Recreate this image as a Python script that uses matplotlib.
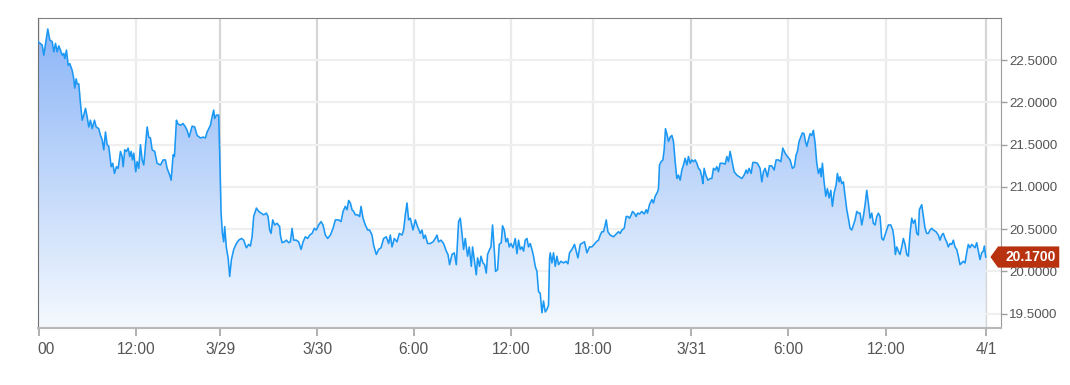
import numpy as np
import matplotlib
matplotlib.use("Agg")
import matplotlib.pyplot as plt
from matplotlib.path import Path
from matplotlib.colors import LinearSegmentedColormap
from matplotlib import transforms

plt.rcParams['font.family'] = ['Liberation Sans', 'DejaVu Sans']

# time position along the session axis, and price
pos = [0, 4.2, 5.8, 9.8, 11.8, 14.2, 15.8, 17.5, 19.2, 20.8, 22.5, 24.2, 25.8, 26.8, 28.5,
       30.2, 31.8, 34.2, 35.8, 36.8, 38.2, 39.2, 40.8, 42.5, 44.2, 45.8, 47.5, 49.2, 50.8,
       52.5, 54.2, 56.5, 58.2, 60.8, 62.5, 64.2, 65.8, 67.5, 69.2, 70.8, 73.2, 74.8, 76.5,
       78.5, 80.2, 82.5, 84.2, 85.2, 86.8, 88.5, 90.2, 91.8, 93.2, 94.5, 95.8, 97.8, 99.2,
       100.8, 102.5, 104.2, 105.8, 107.5, 109.2, 110.8, 112.5, 114.2, 116.8, 119.2, 122.5,
       125.2, 127.5, 129.2, 131.8, 133.2, 135.2, 136.5, 138.5, 139.8, 142.5, 145.2, 147.5,
       149.2, 151.2, 154.2, 156.8, 159.2, 162.5, 165.2, 167.5, 169.2, 170.8, 172.5, 174.2,
       175.8, 176.8, 178.5, 180.8, 181.8, 183.2, 184.5, 185.8, 186.8, 188.5, 190.2, 191.8,
       193.5, 195.8, 198.5, 200.8, 203.5, 205.8, 208.5, 210.8, 212.5, 214.2, 215.8, 218.5,
       220.8, 223.2, 225.8, 228.5, 230.2, 231.8, 233.2, 234.8, 236.8, 239.2, 241.8,
       242.5, 244.2, 246.5, 248.5, 250.8, 252.5, 254.2, 255.8, 258.5, 260.8, 263.2, 265.2,
       267.5, 269.8, 271.8, 274.2, 276.5, 278.5, 280.8, 283.2, 285.2, 287.5, 289.8, 292.5,
       295.2, 297.5, 300.8, 303.2, 305.2, 307.5, 309.2, 310.8, 312.5, 314.2, 315.8, 317.5,
       319.8, 321.8, 323.2, 325.2, 327.5, 329.8, 331.8, 334.2, 335.8, 338.5, 340.8, 343.2,
       345.8, 348.5, 350.8, 352.5, 354.2, 356.5, 359.2, 361.5, 364.2, 365.8, 367.5, 369.2,
       370.8, 372.5, 375.2, 377.5, 379.8, 382.5, 384.2, 385.8, 387.5, 389.8, 392.5, 395.2,
       397.5, 399.2, 400.8, 403.2, 405.8, 408.5, 410.2, 411.8, 414.2, 416.5, 418.5, 420.8,
       422.5, 424.2, 425.8, 427.5, 429.8, 431.5, 433.5, 434.8, 436.5, 438.5, 439.8, 441.8,
       443.2, 445.2, 446.8, 448.5, 449.8, 451.8, 453.2, 454.8, 456.5, 457.8, 459.8, 461.5,
       463.5, 464.8, 466.5, 468.2, 469.8, 471.5, 473.2, 475.2, 477.5, 479.2, 480.8, 482.5,
       484.2, 485.8, 487.5, 489.2, 490.8, 492.5, 494.2, 495.8, 497.5, 499.2, 500.8, 502.5,
       504.2, 505.8, 507.5, 509.2, 510.8, 511.8, 512.5,
       514.2, 515.8, 517.5, 519.2, 520.8, 523.2, 525.8, 528.2, 530.2, 531.8, 534.2, 536.8,
       538.5, 540.2, 542.5, 545.2, 546.8, 549.2, 551.8, 554.2, 556.5, 558.5, 560.8, 562.5,
       564.2, 565.8, 567.5, 568.5, 570.2, 572.5, 575.8, 577.5, 579.2, 580.8, 582.5, 584.2,
       586.5, 588.5, 590.2, 591.8, 593.2, 594.8, 596.5, 598.5, 599.8, 601.8, 604.2, 606.5,
       608.5, 609.8, 611.8, 614.2, 615.8, 617.5, 619.8, 620.8, 621.8, 623.5, 625.2, 626.5,
       627.8, 629.2, 630.8, 632.5, 634.2, 635.8, 637.5, 639.2, 640.8, 642.5, 644.2, 645.8,
       647.5, 649.2, 650.8, 652.5, 654.2, 655.8, 657.5, 659.2, 660.8, 662.5, 664.2, 665.2,
       666.5, 668.2, 670.2, 672.5, 674.2, 675.8, 677.5, 679.2, 680.8, 682.5, 685.2, 687.5,
       689.2, 690.8, 692.5, 694.2, 696.5, 699.2, 701.8, 704.2, 706.5, 708.5, 709.8, 711.5,
       713.5, 715.2, 717.5, 719.8, 722.5, 724.2, 725.8, 727.5, 729.8, 731.8, 734.2, 736.5,
       738.5, 740.8, 743.2, 745.2, 747.5, 749.8, 752.5, 754.8, 756.8, 758.5, 759.8, 761.5,
       763.2, 764.8, 766.5, 767.8, 769.2, 770.8, 772.5, 774.2, 775.8, 777.5, 779.2, 780.8,
       782.5, 783.5, 784.8, 786.5, 788.2, 789.8, 791.5, 793.2, 794.8, 796.5, 798.5, 799.8,
       801.5, 802.5, 804.2, 805.8, 807.5, 809.2, 810.8, 812.5, 814.2, 815.8, 817.5, 819.2,
       820.8, 822.5, 824.2, 825.8, 827.5, 829.2, 830.8, 832.5, 834.2, 835.8, 837.5, 839.2,
       840.8, 842.5, 844.2, 845.8, 847.5, 849.2, 850.8, 853.2, 855.2, 856.5, 857.8, 859.2,
       860.8, 862.5, 864.2, 865.8, 867.5, 869.2, 870.8, 872.5, 874.2, 875.8, 877.5, 879.2,
       880.8, 881.8, 884.2, 885.8, 887.5, 889.2, 890.8, 892.5, 894.2, 895.8, 898.5, 900.8,
       902.5, 904.2, 905.8, 907.5, 909.2, 910.8, 912.5, 914.2, 915.8, 917.5, 919.2, 920.8,
       922.5, 924.2, 925.8, 927.5, 929.2, 930.8, 932.5, 934.2, 935.8, 937.5, 939.2, 940.8,
       942.5, 944.2, 945.8, 946.8, 948.2]

price = [22.72, 22.68, 22.56, 22.87, 22.74, 22.72, 22.60, 22.70, 22.60, 22.67, 22.62, 22.56,
         22.58, 22.52, 22.62, 22.44, 22.46, 22.38, 22.28, 22.17, 22.28, 22.22, 22.22, 21.99,
         21.79, 21.85, 21.93, 21.83, 21.71, 21.79, 21.69, 21.79, 21.71, 21.69, 21.61, 21.56,
         21.44, 21.65, 21.50, 21.48, 21.24, 21.28, 21.16, 21.24, 21.22, 21.42, 21.36, 21.24,
         21.44, 21.42, 21.46, 21.36, 21.42, 21.32, 21.40, 21.18, 21.30, 21.22, 21.50, 21.32,
         21.26, 21.48, 21.71, 21.59, 21.58, 21.44, 21.42, 21.28, 21.26, 21.32, 21.32, 21.22,
         21.14, 21.08, 21.38, 21.36, 21.79, 21.75, 21.73, 21.75, 21.71, 21.67, 21.59, 21.72,
         21.71, 21.61, 21.58, 21.59, 21.58, 21.65, 21.69, 21.73, 21.83, 21.91, 21.81, 21.85,
         21.85, 21.40, 20.69, 20.45, 20.35, 20.53, 20.28, 20.16, 19.94, 20.14, 20.26, 20.33,
         20.37, 20.39, 20.37, 20.28, 20.32, 20.30, 20.41, 20.65, 20.75, 20.71, 20.69, 20.67,
         20.69, 20.65, 20.49, 20.45, 20.61, 20.55, 20.57, 20.53,
         20.43, 20.34, 20.35, 20.37, 20.34, 20.35, 20.51, 20.37, 20.37, 20.35, 20.26, 20.35,
         20.41, 20.39, 20.43, 20.45, 20.51, 20.49, 20.55, 20.59, 20.55, 20.43, 20.39, 20.43,
         20.51, 20.61, 20.61, 20.59, 20.71, 20.77, 20.73, 20.84, 20.81, 20.73, 20.71, 20.67,
         20.67, 20.65, 20.77, 20.63, 20.55, 20.49, 20.49, 20.43, 20.31, 20.20, 20.26, 20.28,
         20.39, 20.41, 20.33, 20.43, 20.29, 20.39, 20.35, 20.45, 20.43, 20.49, 20.67, 20.81,
         20.61, 20.63, 20.49, 20.61, 20.53, 20.45, 20.49, 20.39, 20.43, 20.33, 20.33, 20.35,
         20.39, 20.43, 20.35, 20.37, 20.33, 20.24, 20.20, 20.08, 20.20, 20.22, 20.08, 20.59,
         20.63, 20.45, 20.26, 20.39, 20.18, 20.29, 20.06, 20.29, 20.14, 19.96, 20.16, 20.06,
         20.18, 20.10, 20.08, 19.98, 20.20, 20.26, 20.29, 20.55, 20.26, 20.00, 20.02, 20.32,
         20.34, 20.54, 20.49, 20.35, 20.39, 20.29, 20.33, 20.28, 20.39, 20.21, 20.37, 20.26,
         20.29, 20.24, 20.37, 20.39, 20.29, 20.33, 20.26, 20.18, 20.06, 20.00, 19.76, 19.74,
         19.51, 19.65, 19.52, 19.55, 19.60, 20.15, 20.22,
         20.10, 20.22, 20.06, 20.18, 20.08, 20.12, 20.10, 20.12, 20.09, 20.22, 20.26, 20.32,
         20.24, 20.16, 20.32, 20.34, 20.35, 20.22, 20.29, 20.29, 20.32, 20.35, 20.37, 20.43,
         20.47, 20.47, 20.55, 20.61, 20.47, 20.43, 20.41, 20.43, 20.45, 20.47, 20.45, 20.49,
         20.51, 20.65, 20.65, 20.63, 20.66, 20.71, 20.69, 20.65, 20.69, 20.68, 20.71, 20.68,
         20.73, 20.69, 20.79, 20.85, 20.81, 20.89, 20.94, 20.98, 21.26, 21.30, 21.32, 21.44,
         21.69, 21.63, 21.54, 21.59, 21.61, 21.54, 21.30, 21.10, 21.14, 21.08, 21.20, 21.26,
         21.34, 21.26, 21.36, 21.28, 21.32, 21.30, 21.32, 21.28, 21.22, 21.20, 21.12, 21.04,
         21.22, 21.14, 21.08, 21.10, 21.10, 21.22, 21.20, 21.24, 21.18, 21.28, 21.28, 21.27,
         21.36, 21.30, 21.42, 21.32, 21.18, 21.14, 21.12, 21.10, 21.14, 21.20, 21.16, 21.22,
         21.16, 21.29, 21.29, 21.28, 21.22, 21.06, 21.18, 21.22, 21.12, 21.25, 21.25, 21.20,
         21.32, 21.32, 21.30, 21.46, 21.40, 21.36, 21.32, 21.22, 21.24, 21.38, 21.42, 21.54,
         21.59, 21.64, 21.63, 21.54, 21.48, 21.56, 21.63, 21.61, 21.67, 21.52, 21.28, 21.16,
         21.22, 21.12, 21.28, 21.06, 20.89, 20.98, 20.87, 20.96, 20.77, 20.93, 21.02, 21.16,
         21.06, 21.12, 21.04, 21.06, 20.89, 20.73, 20.63, 20.51, 20.49, 20.55, 20.61, 20.71,
         20.69, 20.69, 20.55, 20.65, 20.79, 20.96, 20.81, 20.63, 20.69, 20.57, 20.55, 20.65,
         20.69, 20.65, 20.39, 20.37, 20.43, 20.49, 20.55, 20.55, 20.49, 20.39, 20.20, 20.29,
         20.24, 20.20, 20.29, 20.39, 20.32, 20.20, 20.18, 20.45, 20.63, 20.57, 20.61, 20.45,
         20.43, 20.73, 20.79, 20.65, 20.51, 20.45, 20.45, 20.49, 20.51, 20.49, 20.47, 20.43,
         20.37, 20.43, 20.45, 20.39, 20.35, 20.29, 20.33, 20.32, 20.37, 20.29, 20.26, 20.18,
         20.08, 20.10, 20.12, 20.10, 20.22, 20.32, 20.28, 20.32, 20.30, 20.28, 20.34, 20.24,
         20.14, 20.22, 20.24, 20.30, 20.17]

tick_pos = [1.5, 98.5, 182.2, 279.2, 376, 473.5, 555.5, 653.5, 750.5, 848.5, 948.5]
tick_labels = ["00", "12:00", "3/29", "3/30", "6:00", "12:00", "18:00", "3/31", "6:00", "12:00", "4/1"]
y_ticks = [19.5, 20.0, 20.5, 21.0, 21.5, 22.0, 22.5]
last_price = 20.17

fig = plt.figure(figsize=(10.7, 3.85), dpi=100)
ax = fig.add_axes([38 / 1070, 1 - 328 / 385, 963 / 1070, 310 / 385])
ax.set_xlim(0, 963.5)
ax.set_ylim(19.33, 23.0)

# gridlines
for t, lab in zip(tick_pos, tick_labels):
    c = '#d6d6d6' if '/' in lab else '#ebebeb'
    ax.axvline(t, color=c, lw=1.6, zorder=0)
for v in y_ticks:
    ax.axhline(v, color='#efefef', lw=1.6, zorder=0)

# gradient area under the line
cmap = LinearSegmentedColormap.from_list('area', ['#f4f9fe', '#89b3f7'])
grad = np.linspace(0, 1, 256).reshape(-1, 1)
im = ax.imshow(grad, cmap=cmap, aspect='auto', origin='lower',
               extent=[0, 963.5, 19.33, 23.0], zorder=1)
area = ax.fill_between(pos, price, 19.33, facecolor='none', edgecolor='none')
im.set_clip_path(area.get_paths()[0], transform=ax.transData)
ax.set_xlim(0, 963.5)
ax.set_ylim(19.33, 23.0)

ax.plot(pos, price, color='#1b98f3', lw=1.15, zorder=3)

# axes styling
ax.set_xticks(tick_pos)
ax.set_xticklabels(tick_labels)
ax.tick_params(axis='x', length=6, width=1.4, color='#b0b0b0', pad=4,
               labelsize=11.2, labelcolor='#555555')
ax.yaxis.tick_right()
ax.set_yticks(y_ticks)
ax.set_yticklabels(['%.4f' % v for v in y_ticks])
ax.tick_params(axis='y', length=4, width=1, color='#a0a0a0', pad=2,
               labelsize=9.6, labelcolor='#555555')
shift = transforms.ScaledTranslation(7 / 100, 0, fig.dpi_scale_trans)
first = ax.get_xticklabels()[0]
first.set_transform(first.get_transform() + shift)

ax.spines['left'].set_color('#707070')
ax.spines['top'].set_color('#808080')
ax.spines['right'].set_color('#9a9a9a')
ax.spines['bottom'].set_color('#b8b8b8')
ax.spines['bottom'].set_linewidth(1.5)


# price tag with arrow on the right axis
def tag_box(x0, y0, width, height, mutation_size):
    padl = 0.5 * mutation_size
    padr = 0.28 * mutation_size
    pady = 0.26 * mutation_size
    x0, x1 = x0 - padl, x0 + width + padr
    y0, y1 = y0 - pady, y0 + height + pady
    ym = (y0 + y1) / 2
    tip = 0.55 * mutation_size
    verts = [(x0 - tip, ym), (x0, y1), (x1, y1), (x1, y0), (x0, y0), (x0 - tip, ym)]
    codes = [Path.MOVETO] + [Path.LINETO] * 4 + [Path.CLOSEPOLY]
    return Path(verts, codes)


trans = transforms.blended_transform_factory(ax.transAxes, ax.transData)
ax.text(1.0 + 4 / 963, last_price, '%.4f' % last_price, transform=trans,
        ha='left', va='center', fontsize=10, fontweight='bold', color='white',
        bbox=dict(boxstyle=tag_box, facecolor='#b8320f', edgecolor='none'),
        zorder=5, clip_on=False)

fig.savefig('out.png', dpi=100)
